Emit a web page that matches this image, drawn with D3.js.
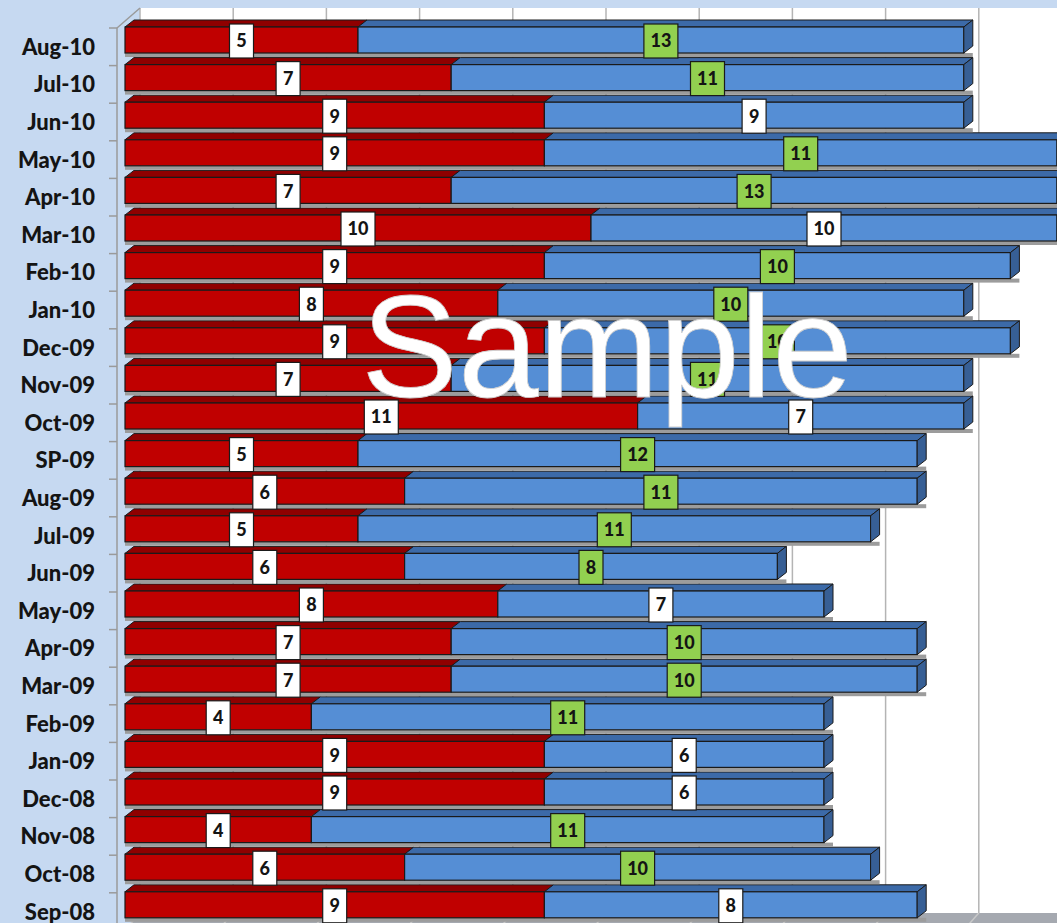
<!DOCTYPE html>
<html>
<head>
<meta charset="utf-8">
<script src="https://cdn.jsdelivr.net/npm/d3@7"></script>
<style>
  html, body { margin: 0; padding: 0; background: #c6d9f1; overflow: hidden; }
  svg { display: block; }
</style>
</head>
<body>
<div id="chart"></div>
<script>
// data, top row first
var months = ['Aug-10','Jul-10','Jun-10','May-10','Apr-10','Mar-10','Feb-10','Jan-10','Dec-09','Nov-09','Oct-09','SP-09',
              'Aug-09','Jul-09','Jun-09','May-09','Apr-09','Mar-09','Feb-09','Jan-09','Dec-08','Nov-08','Oct-08','Sep-08'];
var redValues  = [5, 7, 9, 9, 7, 10, 9, 8, 9, 7, 11, 5, 6, 5, 6, 8, 7, 7, 4, 9, 9, 4, 6, 9];
var blueValues = [13, 11, 9, 11, 13, 10, 10, 10, 10, 11, 7, 12, 11, 11, 8, 7, 10, 10, 11, 6, 6, 11, 10, 8];
var gridTicks = [0, 2, 4, 6, 8, 10, 12, 14, 16, 18, 20];

var width = 1057, height = 923;
var depthX = 15;                // wall depth
var barDX = 9, barDY = 7;       // bar depth
var barH = 26;

var svg = d3.select('#chart').append('svg')
    .attr('width', width)
    .attr('height', height);

var x = d3.scaleLinear().domain([0, 20]).range([125, 1057]);
var y = d3.scaleBand().domain(months).range([28, 28 + months.length * 37.6]);

// back wall
svg.append('rect')
    .attr('x', x(0) + depthX).attr('y', 8)
    .attr('width', width).attr('height', 905)
    .attr('fill', '#ffffff');

// floor
svg.append('polygon')
    .attr('points', [[x(0), 930], [x(0) + depthX, 913], [width + 20, 913], [width + 20, 930]].join(' '))
    .attr('fill', '#a5a9b0');

// gridlines on back wall + floor
gridTicks.forEach(function(t) {
    svg.append('line')
        .attr('x1', x(t) + depthX).attr('x2', x(t) + depthX)
        .attr('y1', 8).attr('y2', 913)
        .attr('stroke', '#b4b4b4').attr('stroke-width', 1.5);
    svg.append('line')
        .attr('x1', x(t) + depthX).attr('y1', 913)
        .attr('x2', x(t)).attr('y2', 930)
        .attr('stroke', '#c8c8c8').attr('stroke-width', 1.5);
});

// left wall edges + ticks
svg.append('line')
    .attr('x1', 117).attr('y1', 28).attr('x2', 117).attr('y2', height)
    .attr('stroke', '#9a9a9a').attr('stroke-width', 1.5);
svg.append('line')
    .attr('x1', 117).attr('y1', 28).attr('x2', x(0) + depthX).attr('y2', 8)
    .attr('stroke', '#9a9a9a').attr('stroke-width', 1.5);
months.forEach(function(m) {
    svg.append('line')
        .attr('x1', 109).attr('x2', 117)
        .attr('y1', y(m)).attr('y2', y(m))
        .attr('stroke', '#9a9a9a').attr('stroke-width', 1.5);
});

// category labels
svg.selectAll('.ylab')
    .data(months)
    .enter()
    .append('text')
    .attr('class', 'ylab')
    .attr('x', 95)
    .attr('y', function(d) { return y(d) + y.bandwidth() / 2; })
    .attr('dy', '0.36em')
    .attr('text-anchor', 'end')
    .style('font-family', 'Lato, "Open Sans", sans-serif')
    .style('font-weight', '900')
    .style('font-size', '22px')
    .attr('fill', '#141414')
    .text(function(d) { return d; });

// rows as segments
var rows = months.map(function(m, i) {
    return { month: m, red: redValues[i], blue: blueValues[i] };
});

// draw bars bottom up so upper top faces stay visible
var bars = svg.append('g');
rows.slice().reverse().forEach(function(r) {
    var t = y(r.month) - 1;
    var x0 = x(0), x1 = x(r.red), x2 = x(r.red + r.blue);
    var g = bars.append('g');

    // gray shadow strip under the bar
    g.append('rect')
        .attr('x', x0).attr('y', t + barH)
        .attr('width', x2 - x0 + barDX).attr('height', 4)
        .attr('fill', '#9c9c9c');

    var segs = [
        { a: x0, b: x1, front: '#c00000', top: '#8f0000' },
        { a: x1, b: x2, front: '#558ed5', top: '#3c6aa8' }
    ];
    segs.forEach(function(s) {
        g.append('polygon')
            .attr('points', [[s.a, t], [s.a + barDX, t - barDY], [s.b + barDX, t - barDY], [s.b, t]].join(' '))
            .attr('fill', s.top).attr('stroke', '#1a1a1a').attr('stroke-width', 1);
        g.append('rect')
            .attr('x', s.a).attr('y', t)
            .attr('width', s.b - s.a).attr('height', barH)
            .attr('fill', s.front).attr('stroke', '#1a1a1a').attr('stroke-width', 1.2);
    });
    // side face on the right end
    g.append('polygon')
        .attr('points', [[x2, t], [x2 + barDX, t - barDY], [x2 + barDX, t - barDY + barH], [x2, t + barH]].join(' '))
        .attr('fill', '#375f95').attr('stroke', '#1a1a1a').attr('stroke-width', 1);
});

// value labels
var labels = [];
rows.forEach(function(r) {
    labels.push({ month: r.month, cx: (x(0) + x(r.red)) / 2, v: r.red, fill: '#ffffff' });
    labels.push({ month: r.month, cx: (x(r.red) + x(r.red + r.blue)) / 2, v: r.blue,
                  fill: r.blue > r.red ? '#92d050' : '#ffffff' });
});

var lab = svg.selectAll('.vlab')
    .data(labels)
    .enter()
    .append('g')
    .attr('class', 'vlab')
    .attr('transform', function(d) { return 'translate(' + d.cx + ',' + (y(d.month) + 13) + ')'; });

lab.append('rect')
    .attr('x', function(d) { return d.v >= 10 ? -17 : -12; })
    .attr('y', -17)
    .attr('width', function(d) { return d.v >= 10 ? 34 : 24; })
    .attr('height', 34)
    .attr('fill', function(d) { return d.fill; })
    .attr('stroke', '#1a1a1a').attr('stroke-width', 1.2);

lab.append('text')
    .attr('text-anchor', 'middle')
    .attr('dy', '0.36em')
    .style('font-family', 'Lato, "Open Sans", sans-serif')
    .style('font-weight', '900')
    .style('font-size', '18px')
    .attr('fill', '#141414')
    .text(function(d) { return d.v; });

// watermark
svg.append('text')
    .attr('x', 607).attr('y', 397)
    .attr('text-anchor', 'middle')
    .style('font-family', '"Liberation Sans", Arial, sans-serif')
    .style('font-size', '145px')
    .attr('fill', '#ffffff')
    .attr('stroke', '#d0d0d0').attr('stroke-width', 0.8)
    .text('Sample');
</script>
</body>
</html>
